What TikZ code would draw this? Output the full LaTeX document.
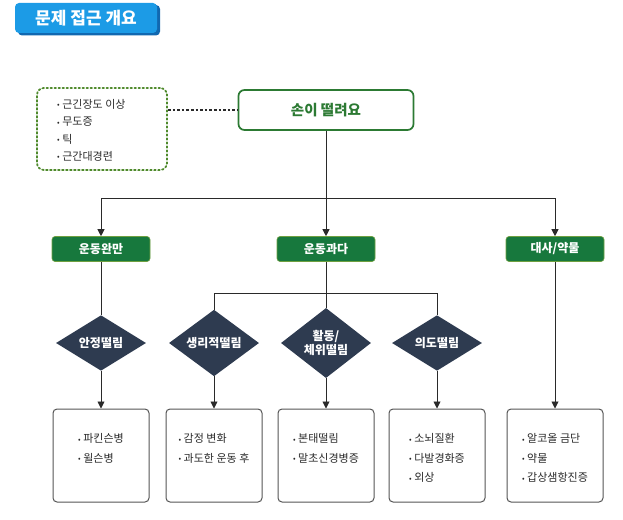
\documentclass[tikz,border=0pt]{standalone}
\usepackage{fontspec}
\setmainfont{Noto Sans CJK KR}
\usetikzlibrary{shapes.geometric,arrows.meta}
\definecolor{tblue}{HTML}{1C9BE6}
\definecolor{tshadow}{HTML}{1168B0}
\definecolor{gfill}{HTML}{17783D}
\definecolor{gedge}{HTML}{6FA040}
\definecolor{mgreen}{HTML}{2C7A33}
\definecolor{dotgreen}{HTML}{4F8A2C}
\definecolor{dfill}{HTML}{2E3B50}
\definecolor{lin}{HTML}{2A2A2A}
\definecolor{boxedge}{HTML}{555555}
\definecolor{txt}{HTML}{2A2A2A}
\newcommand{\bul}{\raisebox{0.5pt}{\scalebox{0.7}{•}}\kern2.5pt}
\begin{document}
\begin{tikzpicture}[x=1pt,y=-1pt,
  conn/.style={draw=lin, line width=0.9pt},
  arr/.style={conn, -{Triangle[length=7pt,width=7pt]}},
  titlebox/.style={fill=tblue, rounded corners=4pt, minimum width=142pt, minimum height=30pt, text=white, font=\fontsize{17}{19}\selectfont\bfseries},
  mainbox/.style={draw=mgreen, line width=1.7pt, fill=white, rounded corners=6pt, minimum width=175pt, minimum height=40pt, text=mgreen, font=\fontsize{14.5}{16}\selectfont\bfseries},
  causebox/.style={draw=dotgreen, line width=1.8pt, dash pattern=on 1.6pt off 2.4pt, line cap=round, rounded corners=7pt, minimum width=130pt, minimum height=82pt},
  listtext/.style={inner sep=0pt, align=left, text=txt, font=\fontsize{11}{17.4}\selectfont},
  greenbox/.style={fill=gfill, draw=gedge, line width=0.6pt, rounded corners=3pt, minimum width=98pt, minimum height=25pt, text=white, font=\fontsize{12}{13}\selectfont\bfseries},
  diam/.style={shape=diamond, fill=dfill, minimum width=90pt, minimum height=52pt, inner sep=0pt, align=center, text=white, font=\fontsize{12}{14.5}\selectfont\bfseries},
  leafbox/.style={draw=boxedge, line width=1pt, rounded corners=4pt, fill=white, minimum width=96pt, minimum height=93pt},
  leaftext/.style={inner sep=0pt, align=left, text=txt, font=\fontsize{11}{19.5}\selectfont, anchor=north, yshift=-25pt}
]
\useasboundingbox (0,0) rectangle (623,519);

% title
\fill[tshadow, rounded corners=4pt] (18,5) rectangle (160,35.5);
\node[titlebox] (title) at (86,18) {문제 접근 개요};

% top
\node[mainbox] (main) at (326,110) {손이 떨려요};
\node[causebox] (causes) at (102,129) {};
\node[listtext, anchor=north west] (ctext) at (57,99) {\bul 근긴장도 이상\\\bul 무도증\\\bul 틱\\\bul 근간대경련};
\draw[draw=lin, line width=1.8pt, dash pattern=on 2.6pt off 2pt] (main.west -| causes.east) -- (main.west);

% level 1
\node[greenbox] (g1) at (101,249) {운동완만};
\node[greenbox] (g2) at (326,249) {운동과다};
\node[greenbox] (g3) at (555,249) {대사/약물};

\coordinate (bus) at (326,198);
\draw[conn] (main.south) -- (main.south |- bus);
\draw[conn] (g1 |- bus) -- (g3 |- bus);
\draw[arr] (g1 |- bus) -- (g1.north);
\draw[arr] (g2 |- bus) -- (g2.north);
\draw[arr] (g3 |- bus) -- (g3.north);

% diamonds
\node[diam] (d1) at (101,343) {안정떨림};
\node[diam] (d2) at (214,343) {생리적떨림};
\node[diam] (d3) at (326,343) {활동/\\체위떨림};
\node[diam] (d4) at (437,343) {의도떨림};

\coordinate (split) at (326,293);
\draw[conn] (g1.south) -- (d1.north);
\draw[conn] (g2.south) -- (d3.north);
\draw[conn] (d2 |- split) -- (d4 |- split);
\draw[conn] (d2 |- split) -- (d2.north);
\draw[conn] (d4 |- split) -- (d4.north);

% leaves
\node[leafbox] (b1) at (101,455.5) {};
\node[leafbox] (b2) at (214,455.5) {};
\node[leafbox] (b3) at (326,455.5) {};
\node[leafbox] (b4) at (437,455.5) {};
\node[leafbox] (b5) at (555,455.5) {};

\node[leaftext] (t1) at (b1.north) {\bul 파킨슨병\\\bul 윌슨병};
\node[leaftext] (t2) at (b2.north) {\bul 감정 변화\\\bul 과도한 운동 후};
\node[leaftext] (t3) at (b3.north) {\bul 본태떨림\\\bul 말초신경병증};
\node[leaftext] (t4) at (b4.north) {\bul 소뇌질환\\\bul 다발경화증\\\bul 외상};
\node[leaftext] (t5) at (b5.north) {\bul 알코올 금단\\\bul 약물\\\bul 갑상샘항진증};

\draw[arr] (d1.south) -- (b1.north);
\draw[arr] (d2.south) -- (b2.north);
\draw[arr] (d3.south) -- (b3.north);
\draw[arr] (d4.south) -- (b4.north);
\draw[arr] (g3.south) -- (b5.north);
\end{tikzpicture}
\end{document}
